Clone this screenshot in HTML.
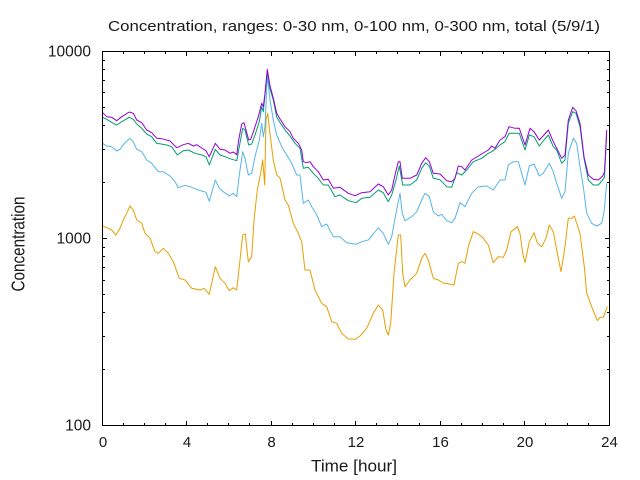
<!DOCTYPE html>
<html><head><meta charset="utf-8"><style>
html,body{margin:0;padding:0;background:#fff;}
svg{display:block;}
text{font-family:"Liberation Sans",sans-serif;fill:#1a1a1a;}
</style></head><body>
<svg width="640" height="480" viewBox="0 0 640 480" xmlns="http://www.w3.org/2000/svg">
<rect width="640" height="480" fill="#fff"/>
<text x="108" y="31" font-size="14.5" textLength="492" lengthAdjust="spacingAndGlyphs">Concentration, ranges: 0-30 nm, 0-100 nm, 0-300 nm, total (5/9/1)</text>
<text transform="translate(24.5,244) rotate(-90)" text-anchor="middle" font-size="18" textLength="95" lengthAdjust="spacingAndGlyphs">Concentration</text>
<text x="311" y="471.5" font-size="16.5" textLength="86" lengthAdjust="spacingAndGlyphs">Time [hour]</text>
<g font-size="15.5" text-anchor="end">
<text x="91" y="56.5">10000</text>
<text x="91" y="243.5">1000</text>
<text x="91" y="430.5">100</text>
</g>
<g font-size="15" text-anchor="middle">
<text x="103" y="447">0</text>
<text x="187" y="447">4</text>
<text x="271.5" y="447">8</text>
<text x="356" y="447">12</text>
<text x="440.5" y="447">16</text>
<text x="525" y="447">20</text>
<text x="609.5" y="447">24</text>
</g>
<g fill="none" stroke-width="1" stroke-linejoin="round">
<polyline stroke="#e69f00" points="102.7,226 108.3,228.3 111.7,230 116,235 120,228.3 123.3,220 126.7,213.3 130,206 133.3,210 136.7,220 141.7,223.3 145,233.3 150,238.3 155,251.7 158.3,253.3 163.3,248.3 168.3,253.3 173.3,261.7 179.3,278.3 185,280 191.7,288.3 200,290 204,288.3 209.3,294.3 215.3,266.7 220,278.3 225,283.3 229.3,290.7 233.3,287.7 236.7,290 240,260 242.7,235 245.3,234 248.3,261.7 251.7,256.7 254,220 257.3,190 260.7,173.3 262.7,160 264.7,185 266,120 267.7,113.3 270,134 273.3,160 276.7,175 280,178 285,200 288.3,205 293.3,223.3 298.3,233.3 301.7,241.7 305,270 310,270 315,290 321.7,303.3 326.7,306.7 331.7,321.7 336.7,323.3 341.7,333.3 348.3,339 355,339.3 360,336 366.7,328.3 373.3,313.3 378.3,305 382.7,310 386,330 388.3,335 390.7,323.3 394,273.3 398.3,235 400.7,235 402.7,273.3 405,286.7 410,280 416.7,273.3 421.7,258.3 425,253.3 428.3,260 433.3,278.3 438.3,280 443.3,283 447,283.5 454,285 458.3,263.3 461.7,261.7 465,263.3 468.3,246.7 473.3,231.7 478.3,234 483.3,238.3 488.3,245 493.3,262.7 498.3,256.7 503.3,257.3 506.7,250 511,231.7 517.3,226.7 520,233.3 522.7,253.3 525,262.7 529.3,241.7 534,232.7 537.3,242.7 541.7,246.7 546,238.3 549.3,225 553.3,231.7 556.7,250 561,271.7 565,246.7 568.3,218.3 571.7,218.3 574.3,216 580,233.3 584.3,266.7 586.7,293.3 591.7,306.7 597.3,320.7 600,317.3 603.3,317.3 607.3,306.7"/>
<polyline stroke="#56b4e9" points="102.7,143.3 106.7,146 111.7,146.7 116.7,151 120,149.3 125,142.7 130,138.3 133.3,141.7 136.7,149.3 141.7,151.7 146.7,160 151.7,163.3 158.3,171.7 163.3,171.7 170,176 175,181.7 178.3,187.7 185,185.3 190,186.7 196.7,189.3 201.7,191 206,192.3 209.3,201.3 215.3,180 219.3,188.3 223.3,191.7 229.3,196 233.3,193.3 236.7,196.7 239.3,175 242.7,151.7 245,158.3 248.3,175 251.7,173.3 255,156.7 259.3,140 261.7,123.3 263.3,136.7 265,126.7 267.3,75 270,100 273.3,120 276.7,135 281.7,146.7 286.7,155 291.7,163.3 296.7,175 300,175 303.3,203.3 308.3,200 311.7,206.7 316.7,215 321.7,226.7 326.7,224 333.3,236.7 340,236.7 346.7,242.7 356,244.3 361.7,241.7 368.3,240 373.3,234 378.3,227.7 383.3,233.3 388.3,244.3 391.7,236.7 396,213.3 400,193.3 402.3,213.3 405,220.7 411.7,216.7 416.7,211.7 421.7,200 425,193.3 429.3,196.7 433.3,211.7 438.3,216 441.7,214.3 446.7,220.7 451.7,222.7 455,218.3 460,202.7 465,206.7 471.7,193.3 478.3,186.7 486.7,186 493.3,190 500,180 505,180 508.3,165 513.3,161.7 518.3,161.7 521.7,173.3 525,185 529.3,166 534,164 539.3,176 543.3,173.3 549.3,163.3 553.3,171.7 556.7,183.3 561.7,198.3 565,191.7 568.3,153.3 573.3,138.3 576.7,143.3 580,166.7 583.3,186.7 586.7,213.3 591.7,223.3 596.7,226 601.7,223.3 604.3,210 606.7,183.3"/>
<polyline stroke="#009e73" points="102.7,117.3 106.7,119.3 113.3,123.3 116.7,125 121.7,121.7 129.3,117.3 133.3,119.3 136.7,124 141.7,128.3 146.7,134 151.7,136.7 156.7,143.3 166.7,145 171.7,146.7 177.3,155 183.3,150.7 188.3,150 195,153.3 201.7,155 206,156.7 209.3,165 215.3,149.3 220,155 225,156.7 230,158.7 236.7,160.7 239.3,146.7 242.7,128.3 245,130 248.7,145 251.7,144 255,135 259.3,121.7 261.7,106.7 263.3,111.7 267.3,71.7 270,89 273.3,100 276.7,117 280,122.5 285,130 290,136 295,143.3 300,148.3 303.3,168.3 308.3,167.3 313.3,173.3 318.3,178.3 323.3,185 328.3,185 335,196.7 340,195 348.3,200.7 356,202.7 361.7,198.3 370,197.3 378.3,190 383.3,192.7 388.3,201.7 391.7,195 396,180 399.3,166 402.7,185 410,185 416.7,180 421.7,168.3 425.7,162.7 429.3,166 433.3,178.3 440,179.8 446.7,186.7 451.7,187.3 456.7,172.7 461.7,175 466.7,170 473.3,161.7 481.7,158.3 488.3,153.3 491.7,151.7 495,149.3 500,145 505,141.7 509,133.3 515,133.3 519.3,133.3 525,150 529.3,135 534,136.7 539.3,146 544,140 548.3,135 553.3,146.7 556.7,150 561.7,163.3 565,160 568.3,123.3 572.7,111.7 576,113.3 580,126.7 584,158.3 588.3,180 593.3,185 598.3,185 602.7,180 604.5,177 606.7,133.3"/>
<polyline stroke="#9400d3" points="102.7,112.7 106.7,116.7 111.7,117.3 116.7,120.7 121.7,116.7 129.3,112 133.3,113.3 136.7,120 141.7,122.7 146.7,130 151.7,132.7 156.7,138.3 161.7,138.7 170,141 176.7,147.7 183.3,144.7 188.3,143.3 193.3,146 196.7,144.7 201.7,148 206,150.7 209.3,156.7 215.3,143.3 220,149.3 225,150 230,153.3 233.3,152 236.7,154.7 238.7,140 241.7,124 244,122.7 246,130 248.7,140 250.7,139.3 254,130 258.3,116.7 261.7,103.3 263.3,106.7 265,93.3 267.3,69.3 270,86 273.3,98 276.7,113.3 280,119 285,126.7 290,131.7 293.3,138.3 298.3,143.3 301.7,150 303.3,161.7 306.7,162.7 310,161.7 313.3,166.7 318.3,171.7 323.3,180 328.3,179.3 333.3,188.3 340,187.3 348.3,193.3 355,195.7 361.7,192.7 370,191.7 378.3,184 383.3,186.7 388.3,195 391.7,190 395,175 398.3,161.7 400,161.7 402.3,178.3 410,178.3 416.7,175 421.7,163.3 425.7,157.7 429.3,161.7 433.3,173.3 440,174 446.7,180.7 451.7,181.7 455,178.3 458.3,166 461.7,166.7 465,170 471.7,160 480,155 488.3,150 491.7,146 495,148.3 500,140 505,136.7 509,126.7 515,128.3 519.3,128.3 525,145 530,128.3 534,131.7 539.3,140 544,135 548.3,130 553.3,141.7 556.7,148.3 561.7,158.3 565,155 568.3,120 572.7,107.3 576,110.7 580,123.3 584,156.7 588.3,175 593.3,179.3 598.3,180 602.7,176 604.5,172 606.7,130"/>
</g>
<g stroke="#000" stroke-width="1" fill="none">
<rect x="102.5" y="51.5" width="507" height="374"/>
<path d="M123.5,425.5V423M144.5,425.5V423M165.5,425.5V423M186.5,425.5V421M207.5,425.5V423M228.5,425.5V423M249.5,425.5V423M271.5,425.5V421M292.5,425.5V423M313.5,425.5V423M334.5,425.5V423M355.5,425.5V421M376.5,425.5V423M397.5,425.5V423M419.5,425.5V423M440.5,425.5V421M461.5,425.5V423M482.5,425.5V423M503.5,425.5V423M524.5,425.5V421M545.5,425.5V423M567.5,425.5V423M588.5,425.5V423"/>
<path d="M123.5,51.5V54M144.5,51.5V54M165.5,51.5V54M186.5,51.5V56M207.5,51.5V54M228.5,51.5V54M249.5,51.5V54M271.5,51.5V56M292.5,51.5V54M313.5,51.5V54M334.5,51.5V54M355.5,51.5V56M376.5,51.5V54M397.5,51.5V54M419.5,51.5V54M440.5,51.5V56M461.5,51.5V54M482.5,51.5V54M503.5,51.5V54M524.5,51.5V56M545.5,51.5V54M567.5,51.5V54M588.5,51.5V54"/>
<path d="M102.5,238.5H107M609.5,238.5H605M102.5,369.5H105M102.5,336.5H105M102.5,312.5H105M102.5,294.5H105M102.5,280.5H105M102.5,267.5H105M102.5,256.5H105M102.5,247.5H105M102.5,182.5H105M102.5,149.5H105M102.5,125.5H105M102.5,107.5H105M102.5,92.5H105M102.5,80.5H105M102.5,69.5H105M102.5,60.5H105"/>
<path d="M609.5,369.5H607M609.5,336.5H607M609.5,312.5H607M609.5,294.5H607M609.5,280.5H607M609.5,267.5H607M609.5,256.5H607M609.5,247.5H607M609.5,182.5H607M609.5,149.5H607M609.5,125.5H607M609.5,107.5H607M609.5,92.5H607M609.5,80.5H607M609.5,69.5H607M609.5,60.5H607"/>
</g>
</svg>
</body></html>
